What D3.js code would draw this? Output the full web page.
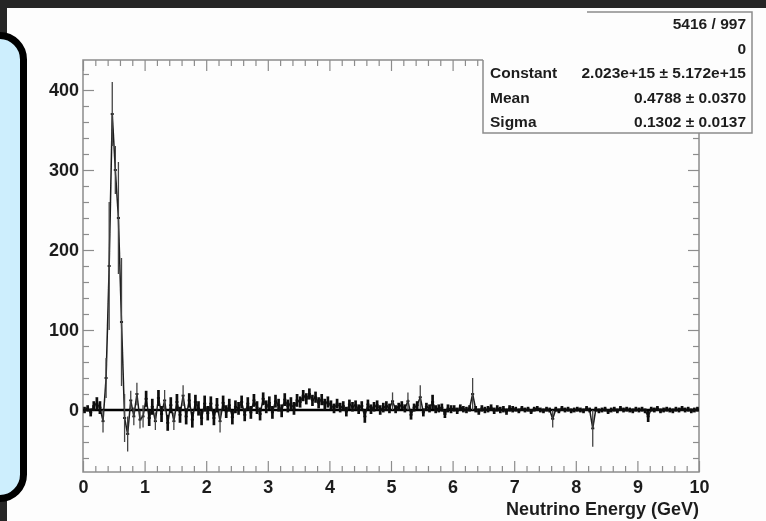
<!DOCTYPE html>
<html>
<head>
<meta charset="utf-8">
<script src="https://cdn.jsdelivr.net/npm/d3@7"></script>
<style>
  body { margin: 0; background: #262626; }
  svg { display: block; }
  text { font-family: "Liberation Sans", Arial, sans-serif; font-weight: bold; fill: #1e1e1e; }
</style>
</head>
<body>
<svg id="chart" width="766" height="521"></svg>
<script>
// histogram: 200 bins from 0 to 10 GeV
const xMin = 0, xMax = 10;
const binValues = [
    0, 2, -3, 5, 8, 3, -14, 40, 180, 370, 300, 240, 110, -10, -30, 12, -8, 20, -12, -8,
    14, -10, 4, -14, 15, -5, 12, -16, 6, -14, 10, -6, 18, -8, 12, -12, 10, 2, -10, 8,
    -4, 8, -10, 6, -14, 9, -2, 6, -9, 4, 2, 10, -6, 8, -3, 12, 3, -5, 14, 4,
    9, -3, 11, 6, -1, 13, 5, 8, 2, 12, 10, 18, 14, 20, 12, 16, 9, 13, 7, 10,
    6, 2, 8, 3, 5, -2, 7, 4, 6, 1, 5, -8, 7, 1, 4, 6, 0, 3, 5, 2,
    11, 1, 4, 6, 2, 11, -6, 3, 6, 16, -3, 4, 2, 10, 1, 2, 3, -5, 2, 1,
    2, -1, 3, 1, 0, 2, 20, 1, -2, 2, 0, 1, 3, -1, 2, 0, 1, -2, 2, 1,
    1, -1, 2, 0, 1, -2, 1, 2, 0, -1, 1, 0, -11, 1, -1, 2, 0, 1, -1, 0,
    1, 0, -1, 2, 0, -23, 1, -1, 0, 1, -2, 0, 1, -1, 2, 0, 1, 0, -1, 1,
    0, 1, -1, -8, 1, 0, 2, -1, 0, 1, 0, -1, 1, 0, 2, 0, 1, -1, 0, 1
];
const binErrors = [
    4, 4, 5, 6, 8, 8, 14, 25, 80, 40, 30, 70, 80, 30, 22, 12, 11, 14, 11, 14,
    10, 10, 10, 11, 10, 10, 13, 10, 10, 11, 10, 10, 13, 10, 9, 10, 9, 9, 9, 10,
    9, 9, 9, 9, 14, 9, 8, 8, 9, 8, 8, 8, 8, 8, 8, 8, 8, 8, 8, 8,
    8, 8, 8, 8, 8, 8, 8, 8, 8, 8, 7, 7, 7, 7, 7, 7, 7, 7, 7, 7,
    6, 6, 6, 6, 6, 6, 6, 6, 6, 6, 6, 8, 6, 6, 6, 6, 6, 6, 6, 6,
    11, 5, 5, 5, 5, 11, 6, 5, 5, 15, 5, 5, 5, 9, 5, 5, 5, 5, 5, 5,
    4, 4, 4, 4, 4, 4, 20, 4, 4, 4, 4, 4, 4, 4, 4, 4, 4, 4, 4, 4,
    3, 3, 3, 3, 3, 3, 3, 3, 3, 3, 3, 3, 11, 3, 3, 3, 3, 3, 3, 3,
    3, 3, 3, 3, 3, 23, 3, 3, 3, 3, 3, 3, 3, 3, 3, 3, 3, 3, 3, 3,
    3, 3, 3, 7, 3, 3, 3, 3, 3, 3, 3, 3, 3, 3, 3, 3, 3, 3, 3, 3
];
const xTicks = [0, 1, 2, 3, 4, 5, 6, 7, 8, 9, 10];
const yTicks = [0, 100, 200, 300, 400];
const xTitle = "Neutrino Energy (GeV)";
const statsLabels = ["", "", "Constant", "Mean", "Sigma"];
const statsValues = ["5416 / 997", "0", "2.023e+15 \u00b1 5.172e+15", "0.4788 \u00b1 0.0370", "0.1302 \u00b1 0.0137"];

const svg = d3.select("#chart");

// background: dark page, white slide, blue side box
svg.append("rect").attr("width", 766).attr("height", 521).attr("fill", "#262626");
svg.append("rect")
    .attr("x", 7).attr("y", 8)
    .attr("width", 759).attr("height", 513)
    .attr("fill", "#fdfdfd");
svg.append("rect")
    .attr("x", -40).attr("y", 35.5)
    .attr("width", 63.5).attr("height", 463)
    .attr("rx", 24)
    .attr("fill", "#cdeefd")
    .attr("stroke", "#000")
    .attr("stroke-width", 7);

svg.append("defs").append("filter")
    .attr("id", "soft")
    .append("feGaussianBlur")
    .attr("stdDeviation", 0.55);

const g = svg.append("g").attr("filter", "url(#soft)");

const x = d3.scaleLinear().domain([xMin, xMax]).range([83, 699]);
const y = d3.scaleLinear().domain([-77.5, 437.5]).range([472, 60]);

const xMinor = d3.range(0, 10.01, 0.2).filter(v => Math.abs(v - Math.round(v)) > 1e-6);
const yMinor = d3.range(-60, 430, 20).filter(v => v % 100 !== 0);

function tickAxis(axisFn, scale, values, size, labels) {
    return axisFn(scale)
        .tickValues(values)
        .tickSize(-size)
        .tickPadding(labels ? 5 : 0)
        .tickFormat(labels ? d3.format("d") : "");
}

function drawAxis(axis, transform) {
    const a = g.append("g")
        .attr("transform", transform)
        .call(axis);
    a.select(".domain").remove();
    a.selectAll("line").attr("stroke", "#8c8c8c").attr("stroke-width", 1.2);
    a.selectAll("text").attr("font-size", 18).attr("fill", "#1e1e1e");
    return a;
}

drawAxis(tickAxis(d3.axisLeft, y, yTicks, 11, true), "translate(83,0)")
    .selectAll("text").attr("x", -4);
drawAxis(tickAxis(d3.axisLeft, y, yMinor, 6, false), "translate(83,0)");
drawAxis(tickAxis(d3.axisRight, y, yTicks, 11, false), "translate(699,0)");
drawAxis(tickAxis(d3.axisRight, y, yMinor, 6, false), "translate(699,0)");
drawAxis(tickAxis(d3.axisBottom, x, xTicks, 11, true), "translate(0,472)")
    .selectAll("text").attr("y", 8);
drawAxis(tickAxis(d3.axisBottom, x, xMinor, 6, false), "translate(0,472)");
drawAxis(tickAxis(d3.axisTop, x, xTicks, 11, false), "translate(0,60)");
drawAxis(tickAxis(d3.axisTop, x, xMinor, 6, false), "translate(0,60)");

// frame
g.append("rect")
    .attr("x", x(xMin)).attr("y", y(437.5))
    .attr("width", x(xMax) - x(xMin))
    .attr("height", y(-77.5) - y(437.5))
    .attr("fill", "none")
    .attr("stroke", "#8c8c8c")
    .attr("stroke-width", 1.5);

g.append("text")
    .attr("x", 699).attr("y", 515)
    .attr("text-anchor", "end")
    .attr("font-size", 18)
    .text(xTitle);

// zero line (fit function)
g.append("line")
    .attr("x1", x(xMin)).attr("x2", x(xMax))
    .attr("y1", y(0)).attr("y2", y(0))
    .attr("stroke", "#000")
    .attr("stroke-width", 2.5);

const bw = (xMax - xMin) / binValues.length;
const bins = binValues.map((v, i) => ({
    lo: xMin + i * bw,
    hi: xMin + (i + 1) * bw,
    v: v,
    e: binErrors[i]
}));

// line through the bin contents
const contentLine = d3.line()
    .x(d => x((d.lo + d.hi) / 2))
    .y(d => y(d.v));

g.append("path")
    .datum(bins)
    .attr("d", contentLine)
    .attr("fill", "none")
    .attr("stroke", "#1a1a1a")
    .attr("stroke-width", 1.5);

const binG = g.append("g")
    .selectAll("g")
    .data(bins)
    .enter().append("g");

// bin width segment at the content
binG.append("line")
    .attr("x1", d => x(d.lo))
    .attr("x2", d => x(d.hi))
    .attr("y1", d => y(d.v))
    .attr("y2", d => y(d.v))
    .attr("stroke", "#111")
    .attr("stroke-width", 1.8);

// error bars
binG.append("line")
    .attr("x1", d => x((d.lo + d.hi) / 2))
    .attr("x2", d => x((d.lo + d.hi) / 2))
    .attr("y1", d => y(d.v - d.e))
    .attr("y2", d => y(d.v + d.e))
    .attr("stroke", d => d.e > 10 ? "#444" : "#111")
    .attr("stroke-width", d => d.e > 10 ? 1.3 : 2.7);

// stats box
const stats = g.append("g");
stats.append("rect")
    .attr("x", 483).attr("y", 12)
    .attr("width", 269).attr("height", 121)
    .attr("fill", "#fdfdfd");
stats.append("path")
    .attr("d", "M587,12H752V133H483V60")
    .attr("fill", "none")
    .attr("stroke", "#8c8c8c")
    .attr("stroke-width", 1.5);

const rowY = d3.scaleLinear().domain([0, 4]).range([29, 127]);
stats.selectAll("text.lab")
    .data(statsLabels)
    .enter().append("text")
    .attr("class", "lab")
    .attr("x", 490)
    .attr("y", (d, i) => rowY(i))
    .attr("font-size", 15.5)
    .text(d => d);
stats.selectAll("text.val")
    .data(statsValues)
    .enter().append("text")
    .attr("class", "val")
    .attr("x", 746)
    .attr("y", (d, i) => rowY(i))
    .attr("text-anchor", "end")
    .attr("font-size", 15.5)
    .text(d => d);
</script>
</body>
</html>
